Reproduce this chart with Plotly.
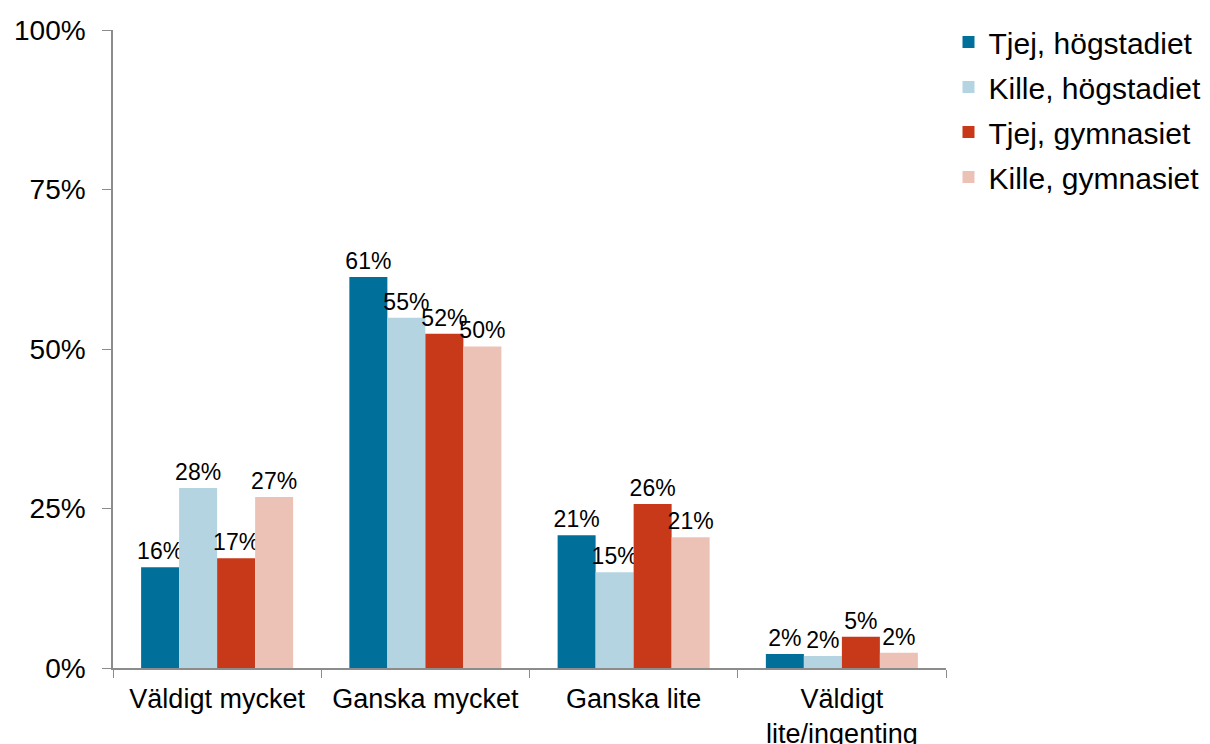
import plotly.graph_objects as go

categories = ["Väldigt mycket", "Ganska mycket", "Ganska lite", "Väldigt<br>lite/ingenting"]
series_names = ["Tjej, högstadiet", "Kille, högstadiet", "Tjej, gymnasiet", "Kille, gymnasiet"]
tjej_hog = [15.8, 61.3, 20.8, 2.2]
kille_hog = [28.2, 54.9, 15.0, 1.9]
tjej_gym = [17.2, 52.4, 25.7, 4.9]
kille_gym = [26.8, 50.4, 20.5, 2.4]
colors = ["#00709B", "#B3D4E0", "#C8391A", "#EDC2B6"]
y_ticks = [0, 25, 50, 75, 100]
y_tick_labels = ["0%", "25%", "50%", "75%", "100%"]

fig = go.Figure()
for i, (name, vals, col) in enumerate(zip(series_names, [tjej_hog, kille_hog, tjej_gym, kille_gym], colors)):
    fig.add_trace(go.Bar(
        x=categories, y=vals, name=name, legendgroup=f"g{i}",
        marker=dict(color=col, line=dict(width=0)),
        texttemplate="%{y:.0f}%", textposition="outside",
        textfont=dict(size=23, color="black"),
        constraintext="none", cliponaxis=False,
    ))

fig.update_layout(
    barmode="group", bargap=0.27, bargroupgap=0,
    width=1210, height=744,
    margin=dict(l=105, r=272, t=22, b=84, autoexpand=False),
    plot_bgcolor="white", paper_bgcolor="white",
    font=dict(family="Liberation Sans, Arial, sans-serif", color="black"),
    showlegend=True,
    legend=dict(x=1.003, y=1.022, xanchor="left", yanchor="top",
                font=dict(size=30), itemwidth=30, tracegroupgap=3),
    xaxis=dict(showline=True, linecolor="#8c8c8c", linewidth=1.5,
               ticks="outside", tickson="boundaries", ticklen=8, tickcolor="#8c8c8c",
               tickfont=dict(size=27), ticklabelstandoff=6,
               showgrid=False, automargin=False),
    yaxis=dict(range=[0, 100], tickmode="array", tickvals=y_ticks, ticktext=y_tick_labels,
               showline=True, linecolor="#8c8c8c", linewidth=1.5,
               ticks="outside", ticklen=9, tickcolor="#8c8c8c",
               tickfont=dict(size=28), ticklabelstandoff=11,
               showgrid=False, zeroline=False, automargin=False),
)

fig.write_html("out.html")
